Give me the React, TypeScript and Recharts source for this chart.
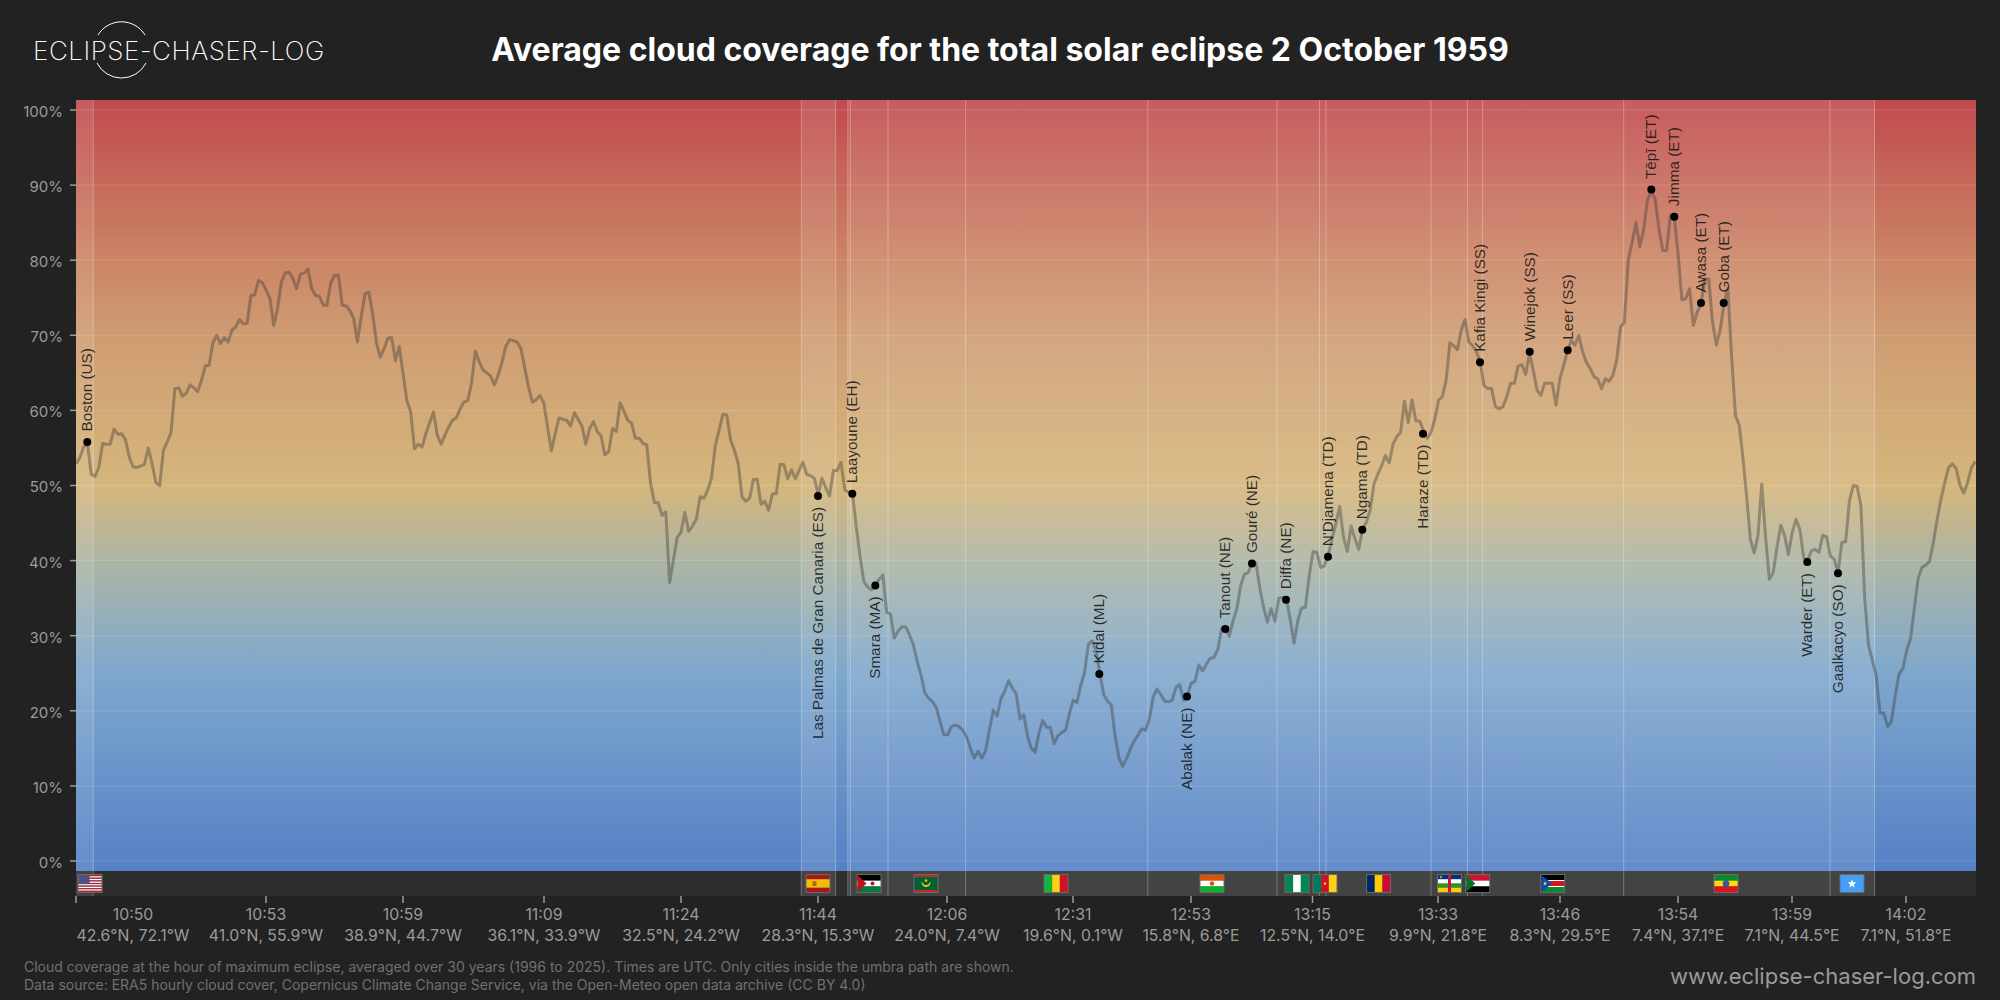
import React from "react";
import {
  ComposedChart, Line, Scatter, XAxis, YAxis, ReferenceArea, ReferenceLine,
} from "recharts";

// Track position along the eclipse path, in arbitrary track units (0..1900)
const trackDomain = [0, 1900];
const cloudDomain = [-4.66, 101.33];

const cloudA = [52.9,53.7,55.1,55.6,51.5,51.2,52.4,55.6,55.5,55.5,57.5,56.8,56.9,56.1,53.8,52.5,52.4,52.6,52.8,55,52.9,50.4,50,54.7,55.8,57.1,62.9,63,61.9,62.3,63.4,63,62.5,64,65.9,66,69,70,68.9,69.7,69.1,70.7,71.1,72.1,71.5,71.6,75.3,75.4,77.3,77,76,74.9,71.3,73.6,77.1,78.3,78.4,77.6,76.2,78.1,78.3,78.8,76.2,75.3,75.2,74,74,77,78,78,74,73.9,73.3,72.3,69.1,72.5,75.5,75.7,72.9,69,67.1,68.2,69.6,69.7,66.6,68.5,64.9,61.3,59.8,54.9,55.5,55.1,56.9,58.4,59.8,56.7,55.5,56.7,57.8,58.7,59,60.2,61.1,61.3,63.6,67.9,66.5,65.4,65,64.6,63.4,64.7,66.4,68.5,69.4,69.3,69.1,68.2,65.6,63.1,61.1,61.4,62,61,57.8,54.6,56.9,59];
const cloudB = [58.8,58.7,57.9,59.7,58.8,57.9,55.5,57.6,58.5,57.2,56.6,54.1,54.5,57.6,57.2,61,59.9,58.7,58.3,56.3,56.3,55.6,55.4,50.3,47.7,47.7,46,46.5,37.1,40.1,43.1,43.8,46.4,43.9,44.6,45.5,48.5,48.3,49.4,51,55.3,57.4,59.5,59.4,56.1,54.7,53,48.5,47.9,48.3,50.8,50.8,47.5,47.9,46.7,48.9,48.9,52.8,52.8,50.9,52.1,50.9,52,53.1,51.5,51.3,51,48.8,51,49.7,48.6,52,52,53.1,49.4,49.1,49,44.6,40.6,37.2,36.5,36.1,36.7,37.5,38.1,33.1,32.9,29.7,30.6,31.2,31.2,30.1,28.8,26.6,24.8,22.4,21.7,21.2,20.5,18.6,16.8,16.8,17.9,18.1,17.9,17.4,16.5,15,13.7,14.6,13.7,14.7,17.5,20.1,19.3,21.6,22.6,24,23,22.3,18.9,19.5,16.6,15,14.5,17.1];
const cloudC = [18.7,17.8,17.8,15.6,16.7,17.1,17.4,19.6,21.4,21.1,23.4,25.1,28.9,29.3,28,25,22.2,21.3,20.8,16.7,13.8,12.6,13.6,14.9,16,16.7,17.6,17.4,18.9,21.8,22.9,22.2,21.3,21.2,21.4,23.1,23.5,21.4,22,23.7,23.9,26.1,25.3,26.2,27,27.1,28.2,31,31,29.9,32,33.6,36.7,38.2,38.4,39.8,39.7,36.4,33.8,31.8,33.6,31.9,35,35.1,35,32.2,29,32,33.7,33.8,38,41.2,41.1,39.1,39.3,40.7,42.9,44.9,47.2,43.1,41.2,44.6,42.9,41.5,44.2,45.1,46.7,50.2,51.5,52.6,54,53,55.5,56.5,57.1,61.2,58.4,61.4,58.6,58.6,57.3,56.3,57.1,58.9,61.4];
const cloudD = [61.8,64,69,68.6,68.1,70.7,72.1,69.1,68.6,67.8,66.4,63.3,62.9,62.9,60.5,60.2,60.5,61.8,63.6,63.6,65.9,66.1,64.8,67.6,65.3,62.7,62,63.6,63.6,63.6,60.7,64.2,66,67.9,69.3,68.7,70,67.8,66.4,65.6,64.5,64.2,62.9,64.2,63.9,64.7,66.7,71.1,71.7];
const cloudE = [80,82.4,85,81.8,84,88,89.2,88.2,84.2,81.3,81.3,86,85.8,80.9,74.7,74.9,76.2,71.3,73.1,74.2,77.5,77.5,71.8,68.7,70.7,74.2,76.3,67.1,59.3,58];
const cloudF = [54,48.7,42.9,41,43.3,50.2,43.1,37.5,38.4,41.8,44.7,43.3,40.8,43.8,45.5,44.1,40.4,40,41.3,41.5,41.1,43.4,43.2,40.6,40.2,38.4,42.4,42.5,48,50,49.9,47.3,34.9,28.7,26.7,24.7,19.7,19.7,17.9,18.6,22,24.9,25.6,28,29.6,33.6,37.6,39.1,39.4,39.9,42.4,45.5,48.2,50.4,52.4,52.9,52.2,50,49,50.4,52.4,53.2];

const stretches: [number, number, number[]][] = [
  [0, 483, cloudA],
  [487, 963, cloudB],
  [966.7, 1362.7, cloudC],
  [1366.3, 1548.3, cloudD],
  [1552.3, 1663.3, cloudE],
  [1666.7, 1899.3, cloudF],
];
const linePoints = stretches.flatMap(([a, b, vals]) =>
  vals.map((y, i) => ({ x: a + ((b - a) * i) / (vals.length - 1), y }))
);

const tickPositions = [0,190,327,468,605,742,871,997,1115,1236.5,1362,1484,1602,1716,1830];
const tickTimes = ["10:50","10:53","10:59","11:09","11:24","11:44","12:06","12:31","12:53","13:15","13:33","13:46","13:54","13:59","14:02"];
const tickCoords = ["42.6°N, 72.1°W","41.0°N, 55.9°W","38.9°N, 44.7°W","36.1°N, 33.9°W","32.5°N, 24.2°W","28.3°N, 15.3°W","24.0°N, 7.4°W","19.6°N, 0.1°W","15.8°N, 6.8°E","12.5°N, 14.0°E","9.9°N, 21.8°E","8.3°N, 29.5°E","7.4°N, 37.1°E","7.1°N, 44.5°E","7.1°N, 51.8°E"];
const yTicks = [0,10,20,30,40,50,60,70,80,90,100];

const cityNames = ["Boston (US)","Las Palmas de Gran Canaria (ES)","Laayoune (EH)","Smara (MA)","Kidal (ML)","Abalak (NE)","Tanout (NE)","Gouré (NE)","Diffa (NE)","N'Djamena (TD)","Ngama (TD)","Haraze (TD)","Kafia Kingi (SS)","Winejok (SS)","Leer (SS)","Tēpī (ET)","Jimma (ET)","Awasa (ET)","Goba (ET)","Warder (ET)","Gaalkacyo (SO)"];
const cityTrack = [11.3,742,776.3,799.3,1023.3,1111,1149.3,1176,1210,1252,1286.3,1347,1404,1453.7,1491.7,1575.3,1598.3,1625,1647.7,1731.3,1762];
const cityCloud = [55.8,48.6,48.9,36.7,24.9,21.9,30.9,39.6,34.8,40.5,44.1,56.9,66.4,67.8,68,89.4,85.8,74.3,74.3,39.8,38.3];
const cityBelow = [0,1,0,1,0,1,0,0,0,0,0,1,0,0,0,0,0,0,0,1,1];
const cities = cityNames.map((name, i) => ({ name, x: cityTrack[i], y: cityCloud[i], below: cityBelow[i] }));

const borderTracks = [17.3,725.3,759.7,771.8,774.4,812,889.6,1071.8,1201,1243.5,1250,1355,1391.4,1406.6,1547.7,1754,1798.5];
const umbraSpans = [[0,17.3],[725.3,759.7],[771.8,1798.5]];

const flagCodes = ["US","ES","EH","MR","ML","NE","NG","CM","TD","CF","SD","SS","ET","SO"];
const flagTrack = [14,742,793,850,980,1136,1221,1249,1302.6,1373.5,1401.7,1476.7,1650,1776];
const flags = flagCodes.map((code, i) => ({ code, x: flagTrack[i], y: -3 }));

const SANS = "Inter, sans-serif";
const GREY = "#9b9b9b";

const W = 23, H = 17;
function bars(dir: "h" | "v", cols: string[], weights?: number[]) {
  const total = (weights || cols.map(() => 1)).reduce((a, b) => a + b, 0);
  let at = 0;
  return cols.map((c, i) => {
    const f = (weights ? weights[i] : 1) / total;
    const el = dir === "h"
      ? <rect key={i} x={0} y={at * H} width={W} height={f * H} fill={c} />
      : <rect key={i} x={at * W} y={0} width={f * W} height={H} fill={c} />;
    at += f;
    return el;
  });
}
const star = (cx: number, cy: number, r: number, c: string) => {
  const pts = Array.from({ length: 10 }, (_, i) => {
    const a = -Math.PI / 2 + (i * Math.PI) / 5;
    const rr = i % 2 ? r * 0.42 : r;
    return `${cx + rr * Math.cos(a)},${cy + rr * Math.sin(a)}`;
  }).join(" ");
  return <polygon points={pts} fill={c} />;
};
const flagArt: Record<string, () => React.ReactNode> = {
  US: () => (<>
    {bars("h", ["#b22234","#fff","#b22234","#fff","#b22234","#fff","#b22234","#fff","#b22234","#fff","#b22234","#fff","#b22234"])}
    <rect width={11} height={9} fill="#3c3b6e" />
    <rect width={11} height={9} fill="#8f8fb5" opacity={0.25} />
  </>),
  ES: () => (<>{bars("h", ["#aa151b","#f1bf00","#aa151b"], [1,2,1])}<rect x={6} y={6} width={4} height={5} fill="#ad6a1e" /></>),
  EH: () => (<>{bars("h", ["#000","#fff","#007a3d"])}<polygon points={`0,0 9,${H/2} 0,${H}`} fill="#c4111b" /><circle cx={15} cy={8.5} r={2} fill="#c4111b" /></>),
  MR: () => (<>{bars("h", ["#c1272d","#006233","#c1272d"], [1,6,1])}<path d="M7.5 7.5 a4 4 0 0 0 8 0 a4 3 0 0 1 -8 0" fill="#ffc400" stroke="#ffc400" />{star(11.5, 5.5, 2, "#ffc400")}</>),
  ML: () => <>{bars("v", ["#14b53a","#fcd116","#ce1126"])}</>,
  NE: () => (<>{bars("h", ["#e05206","#fff","#0db02b"])}<circle cx={11.5} cy={8.5} r={2.2} fill="#e05206" /></>),
  NG: () => <>{bars("v", ["#008751","#fff","#008751"])}</>,
  CM: () => (<>{bars("v", ["#007a5e","#ce1126","#fcd116"])}{star(11.5, 8.5, 2, "#fcd116")}</>),
  TD: () => <>{bars("v", ["#002664","#fecb00","#c60c30"])}</>,
  CF: () => (<>{bars("h", ["#003082","#fff","#289728","#ffce00"])}<rect x={10} width={3} height={H} fill="#d21034" />{star(3, 2, 1.6, "#ffce00")}</>),
  SD: () => (<>{bars("h", ["#d21034","#fff","#000"])}<polygon points={`0,0 9,${H/2} 0,${H}`} fill="#007229" /></>),
  SS: () => (<>
    {bars("h", ["#000","#fff","#da121a","#fff","#078930"], [5,1,5,1,5])}
    <polygon points={`0,0 11,${H/2} 0,${H}`} fill="#0f47af" />{star(3.8, 8.5, 2.2, "#fcdd09")}
  </>),
  ET: () => (<>{bars("h", ["#078930","#fcdd09","#da121a"])}<circle cx={11.5} cy={8.5} r={3.4} fill="#0f47af" opacity={0.85} /></>),
  SO: () => (<><rect width={W} height={H} fill="#4189dd" opacity={1} /><rect width={W} height={H} fill="#4aa8ff" opacity={0.7} />{star(11.5, 8.8, 4.4, "#fff")}</>),
};

function FlagMark(props: any) {
  const { cx, cy, payload } = props;
  if (cx == null) return null;
  return (
    <g transform={`translate(${cx - 12.5},${cy - 9.5})`}>
      <rect width={25} height={19} fill="#6a6a6a" />
      <g transform="translate(1,1)">{flagArt[payload.code]()}</g>
    </g>
  );
}

function CityMark(props: any) {
  const { cx, cy, payload } = props;
  if (cx == null) return null;
  const below = !!payload.below;
  const ly = below ? cy + 11 : cy - 10.5;
  return (
    <g>
      <circle cx={cx} cy={cy} r={4} fill="#000" />
      <text
        x={cx + 5}
        y={ly}
        transform={`rotate(-90 ${cx + 5} ${ly})`}
        textAnchor={below ? "end" : "start"}
        fontFamily="'Liberation Sans', Arial, sans-serif"
        fontSize={15.3}
        fill="#111"
        fillOpacity={0.85}
      >
        {payload.name}
      </text>
    </g>
  );
}

function TrackTick(props: any) {
  const { x, payload } = props;
  const i = tickPositions.indexOf(payload.value);
  if (i < 0) return null;
  const tx = i === 0 ? x + 57 : x;
  return (
    <g fontFamily={SANS} fontSize={15.8} fill={GREY} textAnchor="middle">
      <text x={tx} y={919.5}>{tickTimes[i]}</text>
      <text x={tx} y={940.5}>{tickCoords[i]}</text>
    </g>
  );
}

function CloudTick(props: any) {
  const { x, y, payload } = props;
  return (
    <text x={x} y={y + 7} textAnchor="end" fontFamily={SANS} fontSize={15} fill={GREY}>{`${payload.value}%`}</text>
  );
}

export default function App() {
  return (
    <div style={{ position: "absolute", left: 0, top: 0, width: 2000, height: 1000, background: "#222222", overflow: "hidden" }}>
      <style>{`body{margin:0;background:#222222}`}</style>
      <svg width={2000} height={100} style={{ position: "absolute", left: 0, top: 0 }}>
        <path d="M98 35 A27.5 27.5 0 0 1 145 35" fill="none" stroke="#fff" strokeWidth={1} />
        <path d="M97 63 A27.5 27.5 0 0 0 146 63" fill="none" stroke="#fff" strokeWidth={1} />
        <text x={33} y={59.5} fontFamily={SANS} fontWeight={200} fontSize={26} fill="#fff" letterSpacing={0.55}>ECLIPSE-CHASER-LOG</text>
        <text x={1000} y={61} textAnchor="middle" fontFamily={SANS} fontWeight={700} fontSize={32} fill="#fff">Average cloud coverage for the total solar eclipse 2 October 1959</text>
      </svg>
      <ComposedChart
        width={2000}
        height={1000}
        data={linePoints}
        margin={{ top: 100, right: 24, bottom: 0, left: 0 }}
        style={{ position: "absolute", left: 0, top: 0 }}
      >
        <defs>
          <linearGradient id="cloudBg" x1="0" y1="0" x2="0" y2="1">
            <stop offset="0" stopColor="#c14a4e" />
            <stop offset="0.207" stopColor="#cb8565" />
            <stop offset="0.305" stopColor="#cf9c72" />
            <stop offset="0.5" stopColor="#d5b67c" />
            <stop offset="0.6" stopColor="#acb5a5" />
            <stop offset="0.74" stopColor="#7fa8cd" />
            <stop offset="1" stopColor="#5480c6" />
          </linearGradient>
        </defs>
        <ReferenceArea x1={0} x2={1900} y1={-1.33} y2={101.33} fill="url(#cloudBg)" fillOpacity={1} stroke="none" />
        <ReferenceArea x1={0} x2={1900} y1={-4.66} y2={-1.33} fill="#2e2e2e" fillOpacity={1} stroke="none" />
        {umbraSpans.map(([a, b], i) => (
          <ReferenceArea key={i} x1={a} x2={b} y1={-4.66} y2={101.33} fill="#fff" fillOpacity={0.1} stroke="none" />
        ))}
        {yTicks.map((v) => (
          <ReferenceLine key={`g${v}`} y={v} stroke="#fff" strokeOpacity={0.14} strokeWidth={1} />
        ))}
        {borderTracks.map((t) => (
          <ReferenceLine key={t} x={t} stroke="#fff" strokeOpacity={0.28} strokeWidth={1} />
        ))}
        <XAxis
          dataKey="x"
          type="number"
          domain={trackDomain}
          ticks={tickPositions}
          interval={0}
          axisLine={false}
          tickSize={7}
          tickLine={{ stroke: "#9b9b9b", strokeWidth: 1.5 }}
          tick={<TrackTick />}
          height={104}
        />
        <YAxis
          dataKey="y"
          type="number"
          domain={cloudDomain}
          ticks={yTicks}
          interval={0}
          width={76}
          axisLine={false}
          tickSize={6}
          tickMargin={7}
          tickLine={{ stroke: "#9b9b9b", strokeWidth: 1.5 }}
          tick={<CloudTick />}
        />
        <Line dataKey="y" stroke="#3d3a36" strokeOpacity={0.4} strokeWidth={3} dot={false} isAnimationActive={false} strokeLinejoin="round" legendType="none" />
        <Scatter data={cities} dataKey="y" shape={<CityMark />} isAnimationActive={false} legendType="none" />
        <Scatter data={flags} dataKey="y" shape={<FlagMark />} isAnimationActive={false} legendType="none" />
      </ComposedChart>
      <svg width={2000} height={60} style={{ position: "absolute", left: 0, top: 950 }}>
        <text x={24} y={22} fontFamily={SANS} fontSize={14} fill="#707070">Cloud coverage at the hour of maximum eclipse, averaged over 30 years (1996 to 2025). Times are UTC. Only cities inside the umbra path are shown.</text>
        <text x={24} y={40} fontFamily={SANS} fontSize={14} fill="#707070">Data source: ERA5 hourly cloud cover, Copernicus Climate Change Service, via the Open-Meteo open data archive (CC BY 4.0)</text>
        <text x={1976} y={34} textAnchor="end" fontFamily={SANS} fontSize={22} fill="#9b9b9b">www.eclipse-chaser-log.com</text>
      </svg>
    </div>
  );
}
